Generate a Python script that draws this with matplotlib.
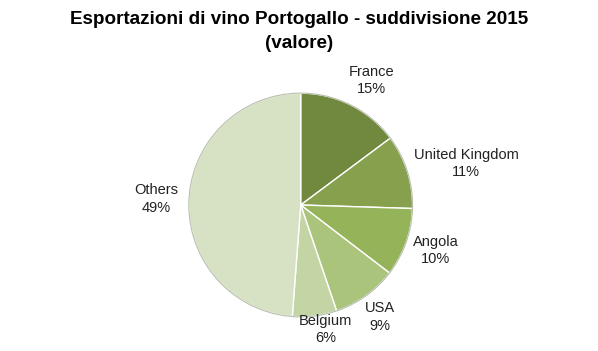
import matplotlib
matplotlib.use("Agg")
import matplotlib.pyplot as plt

categories = ["France", "United Kingdom", "Angola", "USA", "Belgium", "Others"]
values = [14.8, 10.7, 9.9, 9.4, 6.4, 48.8]
pct_labels = ["15%", "11%", "10%", "9%", "6%", "49%"]
colors = ["#71893F", "#86A04E", "#95B358", "#ABC47C", "#C4D5A5", "#D7E2C4"]

W, H = 598, 351
fig = plt.figure(figsize=(W / 100, H / 100), dpi=100)
fam = ["Liberation Sans", "DejaVu Sans"]

cx, cy, r = 300.7, 205, 113
ax = fig.add_axes([(cx - r) / W, (H - cy - r) / H, 2 * r / W, 2 * r / H])
wedges, texts = ax.pie(values, colors=colors, startangle=90, counterclock=False,
                       labels=[f"{c}\n{p}" for c, p in zip(categories, pct_labels)],
                       wedgeprops=dict(edgecolor="white", linewidth=1.0),
                       textprops=dict(fontsize=10.5, family=fam, color="#222222",
                                      ha="center", va="center", linespacing=1.3))
label_px = [(372, 79), (468, 163), (437, 251), (381, 318), (326, 331), (155, 199)]
for t, (px, py) in zip(texts, label_px):
    t.set_position(((px - cx) / r, (cy - py) / r))
    t.set_ha("center")
    t.set_va("center")
ax.set_xlim(-1.01, 1.01)
ax.set_ylim(-1.01, 1.01)
ax.set_aspect("equal")
ax.add_patch(plt.Circle((0, 0), 1.0, fill=False, edgecolor="#B8BFAE", linewidth=0.8))

fig.text(0.5, 1 - 20 / H, "Esportazioni di vino Portogallo - suddivisione 2015",
         ha="center", va="center", fontsize=13.6, fontweight="bold", family=fam)
fig.text(0.5, 1 - 43 / H, "(valore)", ha="center", va="center",
         fontsize=13.6, fontweight="bold", family=fam)

fig.savefig("out.png", dpi=100, facecolor="white")
